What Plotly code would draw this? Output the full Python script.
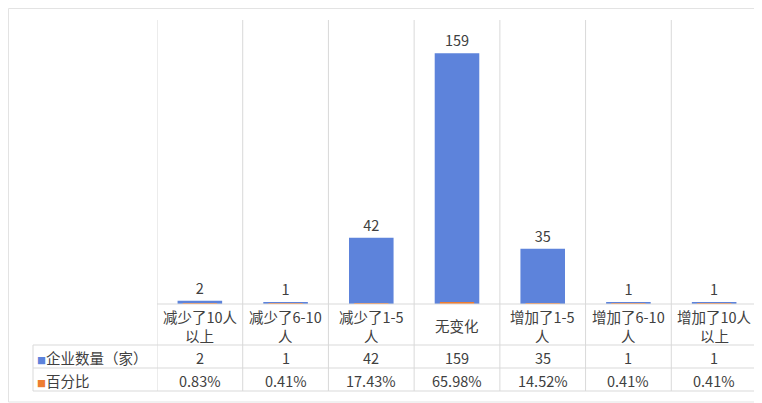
import plotly.graph_objects as go

categories = ["减少了10人<br>以上", "减少了6-10<br>人", "减少了1-5<br>人", "无变化",
              "增加了1-5<br>人", "增加了6-10<br>人", "增加了10人<br>以上"]
companies = [2, 1, 42, 159, 35, 1, 1]
percent = [0.0083, 0.0041, 0.1743, 0.6598, 0.1452, 0.0041, 0.0041]
percent_labels = ["0.83%", "0.41%", "17.43%", "65.98%", "14.52%", "0.41%", "0.41%"]
series_names = ["企业数量（家）", "百分比"]

# the page body adds an 8px margin, so the figure is drawn 8px smaller
OFF = 8
W, H = 762 - OFF, 403 - OFF
L, R, T, B = 157 - OFF, 5, 20 - OFF, 99
ph = H - T - B
BLUE = "#5D83DB"
ORANGE = "#ED7D31"
GRID = "#D9D9D9"
TXT = "#404040"
FONT = "Noto Sans CJK SC, Noto Sans, sans-serif"
FS = 14.5


def py(y):
    # window pixel y -> paper y
    return (H - B - (y - OFF)) / ph


def px(x):
    # window pixel x -> paper x
    return (x - OFF - L) / (W - L - R)


fig = go.Figure()
fig.add_trace(go.Bar(x=list(range(7)), y=companies, name=series_names[0],
                     marker=dict(color=BLUE, line=dict(width=0)),
                     text=[str(v) for v in companies], textposition="outside",
                     textfont=dict(size=FS, color=TXT), cliponaxis=False, width=0.52))
fig.add_trace(go.Bar(x=list(range(7)), y=percent, name=series_names[1],
                     marker=dict(color=ORANGE, line=dict(width=0)), width=0.4))

shapes = []
# column separators from top of plot down to the table bottom
for i in range(8):
    shapes.append(dict(type="line", xref="x", yref="paper", x0=i - 0.5, x1=i - 0.5,
                       y0=1, y1=py(391), line=dict(color=GRID, width=1)))
# left border of the legend column
shapes.append(dict(type="line", xref="paper", yref="paper", x0=px(33), x1=px(33),
                   y0=py(345), y1=py(391), line=dict(color=GRID, width=1)))
# horizontal table lines
shapes.append(dict(type="line", xref="x", yref="paper", x0=-0.5, x1=6.5,
                   y0=0, y1=0, line=dict(color=GRID, width=1)))
for yy in [345, 368, 391]:
    shapes.append(dict(type="line", xref="paper", yref="paper", x0=px(33), x1=1,
                       y0=py(yy), y1=py(yy), line=dict(color=GRID, width=1)))
# outer chart border
shapes.append(dict(type="rect", xref="paper", yref="paper", x0=px(8.5), x1=px(761),
                   y0=py(402), y1=py(8.5), line=dict(color="#E3E3E3", width=1)))

annotations = []
for i in range(7):
    lines = categories[i].split("<br>")
    if len(lines) == 1:
        line_pos = [325]
    else:
        line_pos = [316, 335]
    for txt, yy in zip(lines, line_pos):
        annotations.append(dict(x=i, y=py(yy), xref="x", yref="paper", text=txt,
                                showarrow=False, font=dict(size=FS, color=TXT),
                                yanchor="middle"))
    annotations.append(dict(x=i, y=py(357), xref="x", yref="paper", text=str(companies[i]),
                            showarrow=False, font=dict(size=FS, color=TXT), yanchor="middle"))
    annotations.append(dict(x=i, y=py(380), xref="x", yref="paper", text=percent_labels[i],
                            showarrow=False, font=dict(size=FS, color=TXT), yanchor="middle"))
for name, col, yy in [(series_names[0], BLUE, 357), (series_names[1], ORANGE, 380)]:
    annotations.append(dict(x=px(35), y=py(yy), xref="paper", yref="paper",
                            text=f"<span style='color:{col};font-size:9px'>■</span>{name}",
                            showarrow=False, xanchor="left", yanchor="middle",
                            font=dict(size=FS, color=TXT)))

fig.update_layout(
    width=W, height=H, margin=dict(l=L, r=R, t=T, b=B),
    paper_bgcolor="white", plot_bgcolor="white",
    barmode="overlay", showlegend=False,
    font=dict(family=FONT, color=TXT),
    xaxis=dict(range=[-0.5, 6.5], showticklabels=False, showgrid=False, zeroline=False,
               fixedrange=True),
    yaxis=dict(range=[0, 180], visible=False, fixedrange=True),
    shapes=shapes, annotations=annotations,
)

fig.write_html("out.html")
